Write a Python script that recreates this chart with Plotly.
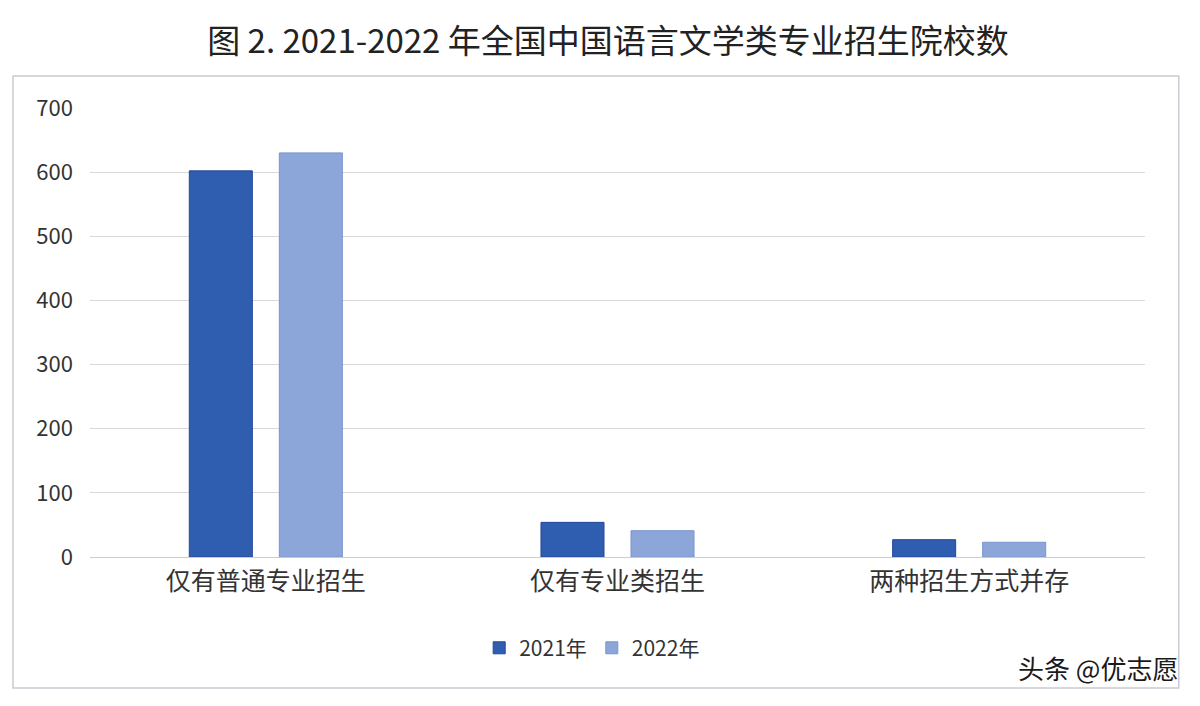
import plotly.graph_objects as go

categories = ["仅有普通专业招生", "仅有专业类招生", "两种招生方式并存"]
series_names = ["2021年", "2022年"]
values_2021 = [602, 54, 27]
values_2022 = [630, 41, 23]
colors = ["#2F5DB0", "#8CA6DA"]
edge_colors = ["#24479A", "#7A94CC"]
title_text = "图 2. 2021-2022 年全国中国语言文学类专业招生院校数"
y_ticks = [0, 100, 200, 300, 400, 500, 600, 700]

font_family = "Noto Sans CJK SC, Noto Sans, sans-serif"

fig = go.Figure()
for name, vals, col, ec in zip(series_names, [values_2021, values_2022], colors, edge_colors):
    fig.add_trace(go.Bar(
        x=categories, y=vals, name=name,
        marker=dict(color=col, line=dict(color=ec, width=1)),
    ))

fig.update_layout(
    width=1200, height=706,
    paper_bgcolor="white", plot_bgcolor="white",
    margin=dict(l=82, r=63, t=100, b=157),
    barmode="group", bargap=0.488, bargroupgap=0.3,
    title=dict(text=title_text, x=0.5, xanchor="center", y=0.952, yanchor="middle",
               font=dict(family=font_family, size=33, color="#222222")),
    font=dict(family=font_family, color="#333333"),
    legend=dict(orientation="h", x=0.476, xanchor="center", y=-0.203, yanchor="middle",
                font=dict(size=21, color="#333333"), traceorder="normal"),
    xaxis=dict(tickfont=dict(size=25, color="#333333"), showline=True, linecolor="#CCCCCC",
               ticks="", ticklabelstandoff=2),
    yaxis=dict(range=[0, 700], tickvals=y_ticks, tickfont=dict(size=22, color="#333333"),
               gridcolor="#D9D9D9", zeroline=False, ticklabelstandoff=16, showline=False),
    shapes=[dict(type="rect", xref="paper", yref="paper", x0=-0.073, x1=1.032, y0=-0.292, y1=1.071,
                 line=dict(color="#C8CCD2", width=1.5), layer="below")],
    annotations=[dict(text="头条 @优志愿", xref="paper", yref="paper", x=1.033, y=-0.245,
                      xanchor="right", yanchor="middle", showarrow=False,
                      font=dict(family=font_family, size=26, color="#1A1A1A"))],
)

fig.write_html("out.html")
